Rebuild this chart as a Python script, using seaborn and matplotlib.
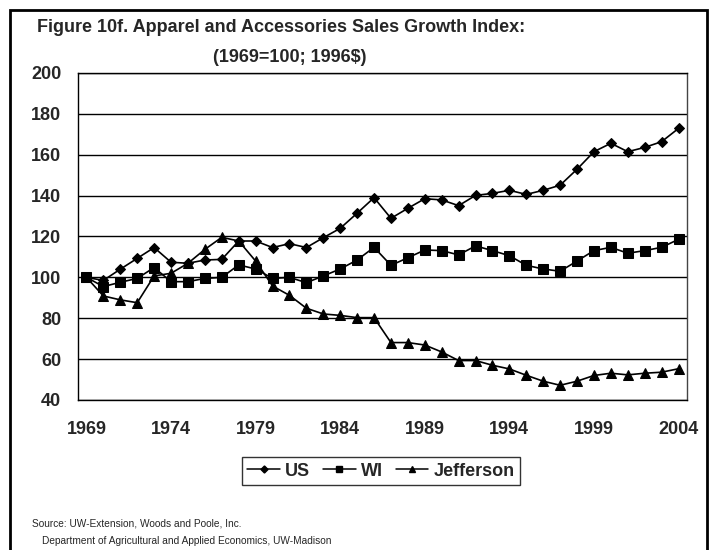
import numpy as np
import pandas as pd
import matplotlib
matplotlib.use("Agg")
import matplotlib.pyplot as plt
import seaborn as sns
from matplotlib.lines import Line2D
from matplotlib.patches import Rectangle

years = list(range(1969, 2005))

us = [100, 98.5, 104, 109.3, 114.6, 107.4, 106.9, 108.5, 108.8, 117.8,
      117.8, 114.6, 116.5, 114.6, 119.4, 124, 131.4, 139, 128.9, 133.8,
      138.5, 137.9, 135.1, 140.1, 141.1, 142.6, 140.6, 142.6, 145.1, 152.9,
      161.5, 165.6, 161.5, 163.6, 166.4, 172.9]

wi = [100, 95.5, 97.6, 99.5, 104.8, 97.9, 97.9, 99.5, 100, 106.1,
      104.1, 99.5, 100, 97.4, 100.7, 104.1, 108.5, 114.7, 105.9, 109.6,
      113.4, 113.1, 111, 115.4, 113.1, 110.6, 105.9, 104.1, 103, 108,
      113.1, 114.7, 111.8, 113.1, 114.7, 118.6]

jefferson = [100, 90.9, 89, 87.6, 100.7, 102, 106.9, 113.7, 119.6, 117.8,
             108, 95.8, 91.2, 84.9, 82.1, 81.4, 80.3, 80.3, 68.1, 68.1,
             66.9, 63.5, 59.3, 59.3, 57, 55.2, 52.1, 49.2, 47.2, 49.2,
             52, 53.1, 52.3, 53.1, 53.6, 55.3]

series_names = ["US", "WI", "Jefferson"]
y_ticks = list(range(40, 201, 20))
x_label_years = list(range(1969, 2005, 5))

title_line1 = "Figure 10f. Apparel and Accessories Sales Growth Index:"
title_line2 = "(1969=100; 1996$)"
source_line1 = "Source: UW-Extension, Woods and Poole, Inc."
source_line2 = "Department of Agricultural and Applied Economics, UW-Madison"

df = pd.DataFrame({
    "Year": years * 3,
    "Index": us + wi + jefferson,
    "Series": ["US"] * len(years) + ["WI"] * len(years) + ["Jefferson"] * len(years),
})

sns.set_theme(style="white")
plt.rcParams["font.family"] = ["Liberation Sans", "DejaVu Sans"]
plt.rcParams["font.weight"] = "bold"

fig = plt.figure(figsize=(7.12, 5.5), dpi=100)
ax = fig.add_axes([78 / 712, 1 - 400 / 550, (687 - 78) / 712, (400 - 73) / 550])

markers = {"US": "D", "WI": "s", "Jefferson": "^"}
sizes = {"US": 5.5, "WI": 6.5, "Jefferson": 7.5}
for name in series_names:
    sub = df[df["Series"] == name]
    sns.lineplot(data=sub, x="Year", y="Index", ax=ax, color="black",
                 marker=markers[name], markersize=sizes[name],
                 markeredgecolor="black", linewidth=1.2, legend=False)

ax.set_xlim(1968.5, 2004.5)
ax.set_ylim(40, 200)
ax.set_xlabel("")
ax.set_ylabel("")

# y axis: gridlines at every tick
ax.set_yticks(y_ticks)
ax.set_yticklabels([str(v) for v in y_ticks], fontsize=13, fontweight="bold")
ax.yaxis.grid(True, color="black", linewidth=1.0)
ax.tick_params(axis="y", direction="out", length=5, width=1, color="black", pad=7)

# x axis: tick marks on category boundaries, labels every five years
ax.set_xticks(np.arange(1968.5, 2005, 1))
ax.set_xticklabels([])
ax.tick_params(axis="x", which="major", direction="out", length=5, width=1, color="black")
ax.set_xticks(x_label_years, minor=True)
ax.set_xticklabels([str(v) for v in x_label_years], minor=True, fontsize=13, fontweight="bold")
ax.tick_params(axis="x", which="minor", length=0, pad=15)

for side in ["left", "bottom", "top"]:
    ax.spines[side].set_color("black")
    ax.spines[side].set_linewidth(1.0)
ax.spines["right"].set_color("#444444")
ax.spines["right"].set_linewidth(1.0)
ax.set_axisbelow(True)

# titles
fig.text(37 / 712, 1 - 27 / 550, title_line1, fontsize=13, fontweight="bold",
         ha="left", va="center")
fig.text(290 / 712, 1 - 57 / 550, title_line2, fontsize=13, fontweight="bold",
         ha="center", va="center")

# legend
handles = [Line2D([0], [0], color="black", linewidth=1.1, marker=markers[n],
                  markersize=sizes[n] * 0.65) for n in series_names]
leg = fig.legend(handles, series_names, loc="center",
                 bbox_to_anchor=(381 / 712, 1 - 471 / 550), ncol=3,
                 frameon=True, fancybox=False, edgecolor="black",
                 prop={"size": 13, "weight": "bold"}, handlelength=1.8,
                 handletextpad=0.3, columnspacing=0.7, borderpad=0.3)
leg.get_frame().set_linewidth(1.0)

# source notes
fig.text(32 / 712, 1 - 524 / 550, source_line1, fontsize=7.3, fontweight="normal",
         ha="left", va="center")
fig.text(42 / 712, 1 - 541 / 550, source_line2, fontsize=7.3, fontweight="normal",
         ha="left", va="center")

# outer frame
fig.patches.append(Rectangle((10 / 712, -0.05), (707 - 10) / 712, 1.05 - 10 / 550,
                             transform=fig.transFigure, fill=False,
                             edgecolor="black", linewidth=2))

fig.savefig("out.png", dpi=100)
